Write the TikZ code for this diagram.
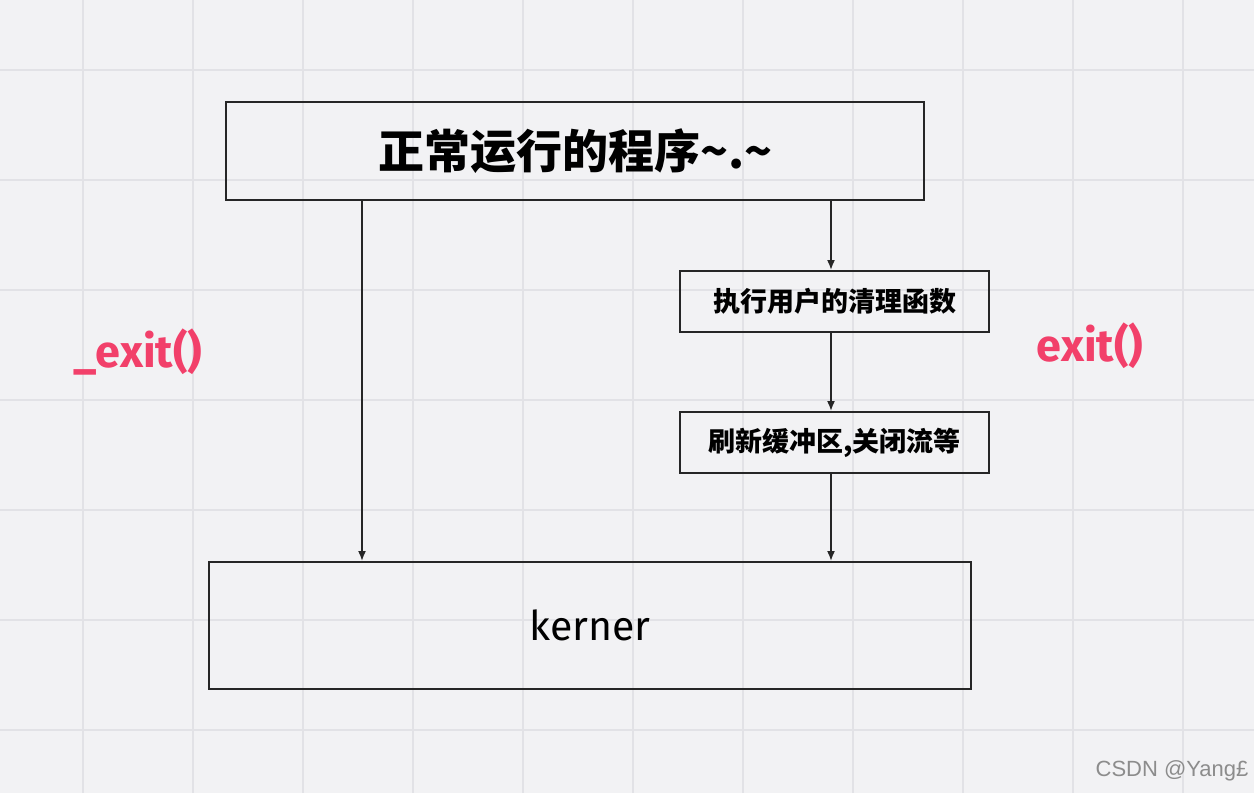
\documentclass[tikz,border=0pt]{standalone}
\usepackage{fontspec}
\setmainfont{Liberation Sans}
\newfontfamily\cjk{Noto Sans CJK SC}
\newfontfamily\lab{Fira Sans}
\definecolor{bg}{HTML}{F2F2F4}
\definecolor{gridc}{HTML}{E2E2E6}
\definecolor{pinkred}{HTML}{F2406A}
\tikzset{
  box/.style={draw=black!85,line width=2.4pt,inner sep=0pt,anchor=north west},
  flow/.style={draw=black!85,line width=1.6pt,-{Latex[length=10pt,width=8pt]}},
  tag/.style={text=pinkred,font=\lab\bfseries\fontsize{45}{45}\selectfont}
}
\usetikzlibrary{arrows.meta}
\begin{document}
\begin{tikzpicture}[x=1pt,y=-1pt]
  \fill[bg] (0,0) rectangle (1254,793);
  \useasboundingbox (0,0) rectangle (1254,793);
  % grid
  \foreach \x in {83,193,...,1254} \draw[gridc,line width=1.2pt] (\x,0) -- (\x,793);
  \foreach \y in {70,180,...,793} \draw[gridc,line width=1.2pt] (0,\y) -- (1254,\y);
  % boxes
  \node[box,minimum width=698pt,minimum height=98pt,font=\cjk\bfseries\fontsize{46}{46}\selectfont] (prog) at (225,101) {正常运行的程序\textasciitilde.\textasciitilde};
  \node[box,minimum width=309pt,minimum height=61pt,font=\cjk\bfseries\fontsize{27}{27}\selectfont] (clean) at (679,270) {执行用户的清理函数};
  \node[box,minimum width=309pt,minimum height=61pt,font=\cjk\bfseries\fontsize{27}{27}\selectfont] (flush) at (679,411) {刷新缓冲区,关闭流等};
  \node[box,minimum width=762pt,minimum height=127pt,font=\lab\fontsize{41}{41}\selectfont] (kern) at (208,561) {kerner};
  % connectors
  \coordinate (l1) at (362,199);
  \coordinate (l2) at (362,561);
  \coordinate (r1) at (831,199);
  \draw[flow] (l1) -- (l2);
  \draw[flow] (r1) -- (clean.north -| r1);
  \draw[flow] (clean.south -| r1) -- (flush.north -| r1);
  \draw[flow] (flush.south -| r1) -- (kern.north -| r1);
  % labels
  \node[tag] (quick) at (138,352) {\_exit()};
  \node[tag] (normal) at (1090,346) {exit()};
  \node[text=black!45,font=\fontsize{22}{22}\selectfont] (mark) at (1172,771) {CSDN @Yang£};
\end{tikzpicture}
\end{document}
